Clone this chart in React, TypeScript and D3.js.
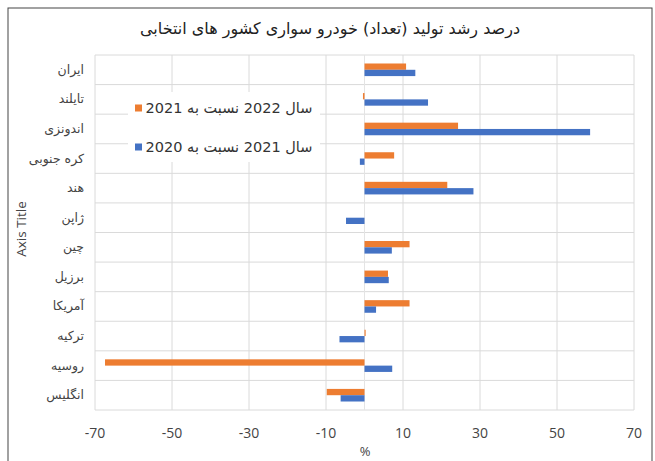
import React from "react";
import * as d3 from "d3";

const categories = ["ایران", "تایلند", "اندونزی", "کره جنوبی", "هند", "ژاپن", "چین", "برزیل", "آمریکا", "ترکیه", "روسیه", "انگلیس"];
const series2022vs2021 = [10.8, -0.4, 24.3, 7.7, 21.5, 0, 11.7, 6.1, 11.7, 0.3, -67.4, -9.8];
const series2021vs2020 = [13.2, 16.5, 58.6, -1.2, 28.3, -4.8, 7.1, 6.3, 3.0, -6.5, 7.2, -6.2];
const xTicks = [-70, -50, -30, -10, 10, 30, 50, 70];
const legendLabels = ["سال 2022 نسبت به 2021", "سال 2021 نسبت به 2020"];
const title = "درصد رشد تولید (تعداد) خودرو سواری کشور های انتخابی";

const ORANGE = "#ED7D31";
const BLUE = "#4472C4";
const faFont = "'DejaVu Sans', sans-serif";
const numFont = "'Open Sans', 'Liberation Sans', sans-serif";

export default function App() {
  const W = 655, H = 461;
  const left = 95, right = 634, top = 55, bottom = 410;
  const x = d3.scaleLinear().domain([-70, 70]).range([left, right]);
  const y = d3.scaleBand<string>().domain(categories).range([top, bottom]).paddingInner(0).paddingOuter(0);
  const bw = y.bandwidth();
  const barH = 6.3;

  return (
    <svg width={W} height={H} style={{ position: "absolute", left: 0, top: 0, background: "#fff" }}>
      <rect x={0} y={0} width={W} height={H} fill="#fff" />
      <rect x={8} y={8} width={644} height={470} fill="#fff" stroke="#444" strokeWidth={1} />
      <text x={330} y={34} textAnchor="middle" fontFamily={faFont} fontSize={16} fill="#222" direction="rtl">{title}</text>
      {categories.map((c) => (
        <line key={"h" + c} x1={left} x2={right} y1={y(c)!} y2={y(c)!} stroke="#DADADA" strokeWidth={1} />
      ))}
      <line x1={left} x2={right} y1={bottom} y2={bottom} stroke="#DADADA" strokeWidth={1} />
      {xTicks.map((t) => (
        <line key={"v" + t} x1={x(t)} x2={x(t)} y1={top} y2={bottom} stroke="#DADADA" strokeWidth={1} />
      ))}
      <line x1={x(0)} x2={x(0)} y1={top} y2={bottom} stroke="#E4E4E4" strokeWidth={1} />
      {categories.map((c, i) => {
        const cy = y(c)! + bw / 2;
        const a = series2022vs2021[i];
        const b = series2021vs2020[i];
        return (
          <g key={"b" + c}>
            <rect x={Math.min(x(0), x(a))} y={cy - barH} width={Math.abs(x(a) - x(0))} height={barH} fill={ORANGE} />
            <rect x={Math.min(x(0), x(b))} y={cy} width={Math.abs(x(b) - x(0))} height={barH} fill={BLUE} />
          </g>
        );
      })}
      <rect x={128} y={92} width={192} height={70} fill="#fff" />
      {legendLabels.map((l, i) => {
        const ly = 108 + i * 39;
        return (
          <g key={l}>
            <rect x={135} y={ly - 3.5} width={7} height={7} fill={i === 0 ? ORANGE : BLUE} />
            <text x={229} y={ly + 5} textAnchor="middle" fontFamily={faFont} fontSize={14.5} fill="#333" direction="rtl">{l}</text>
          </g>
        );
      })}
      {categories.map((c) => (
        <text key={"l" + c} x={84} y={y(c)! + bw / 2 + 4} textAnchor="end" fontFamily={faFont} fontSize={12.5} fill="#444" direction="ltr">{c}</text>
      ))}
      {xTicks.map((t) => (
        <text key={"t" + t} x={x(t)} y={438} textAnchor="middle" fontFamily={numFont} fontSize={14} fill="#444">{t}</text>
      ))}
      <text x={365} y={456} textAnchor="middle" fontFamily={numFont} fontSize={13} fill="#444">%</text>
      <text transform="translate(26,229) rotate(-90)" textAnchor="middle" fontFamily={numFont} fontSize={13.5} fill="#444">Axis Title</text>
    </svg>
  );
}
